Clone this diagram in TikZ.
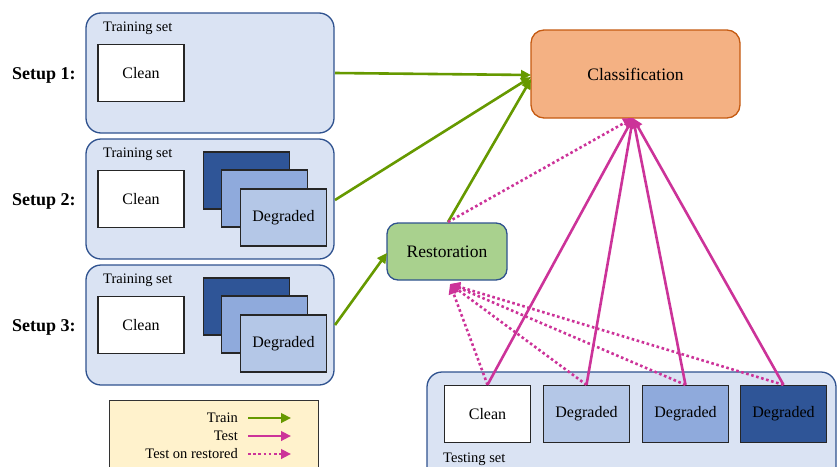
\documentclass[tikz,border=0pt]{standalone}
\usepackage{fontspec}
\setmainfont{Liberation Serif}
\usetikzlibrary{arrows.meta}
\definecolor{setfill}{RGB}{218,227,243}
\definecolor{setdraw}{RGB}{47,82,143}
\definecolor{clsfill}{RGB}{244,177,131}
\definecolor{clsdraw}{RGB}{197,90,17}
\definecolor{resfill}{RGB}{169,209,142}
\definecolor{degA}{RGB}{180,199,231}
\definecolor{degB}{RGB}{143,170,220}
\definecolor{degC}{RGB}{47,85,151}
\definecolor{trainc}{RGB}{102,153,0}
\definecolor{testc}{RGB}{204,51,153}
\definecolor{legfill}{RGB}{255,242,204}
\tikzset{
  setbox/.style={draw=setdraw, fill=setfill, line width=1.3pt, rounded corners=15pt},
  imgbox/.style={draw=black!85, line width=1.3pt, minimum width=86pt, minimum height=57pt, inner sep=0pt, font=\fontsize{16}{18}\selectfont},
  lbl/.style={font=\fontsize{14.5}{16}\selectfont, inner sep=0pt},
  setup/.style={font=\bfseries\fontsize{18}{20}\selectfont, inner sep=0pt},
  trainarrow/.style={draw=trainc, line width=2.6pt, -{Triangle[length=10pt,width=9.5pt]}},
  testarrow/.style={draw=testc, line width=2.6pt, -{Triangle[length=10pt,width=9.5pt]}},
  restarrow/.style={draw=testc, line width=2.6pt, dash pattern=on 2.6pt off 2.6pt, -{Triangle[length=10pt,width=9.5pt]}},
}
\begin{document}
\begin{tikzpicture}[x=1pt,y=-1pt]
\useasboundingbox (0,0) rectangle (837,466);
\clip (0,0) rectangle (837,466);

% three training setups
\foreach \i/\dy in {1/0,2/126,3/252}{
  \path[setbox] (86,13+\dy) rectangle (334,133+\dy);
  \node[lbl, anchor=west] at (103,28+\dy) {Training set};
  \node[setup, anchor=west] at (12,75+\dy) {Setup \i:};
  \node[imgbox, fill=white] at (141,73+\dy) {Clean};
}
\node[coordinate] (s1) at (335,73) {};
\node[coordinate] (s2) at (335,200) {};
\node[coordinate] (s3) at (335,325) {};

% degraded stacks
\foreach \dy in {0,126}{
  \node[imgbox, fill=degC] at (246.5,180.5+\dy) {};
  \node[imgbox, fill=degB] at (264.5,198.5+\dy) {};
  \node[imgbox, fill=degA] at (283.5,217.5+\dy) {Degraded};
}

% processing blocks
\node[draw=clsdraw, fill=clsfill, line width=1.3pt, rounded corners=13pt,
      minimum width=209pt, minimum height=88pt, font=\fontsize{17.5}{20}\selectfont]
      (cls) at (635.5,74) {Classification};
\node[draw=setdraw, fill=resfill, line width=1.3pt, rounded corners=11pt,
      minimum width=120pt, minimum height=57pt, font=\fontsize{17.5}{20}\selectfont]
      (res) at (447,251.5) {Restoration};

% testing set
\path[setbox] (427,372) rectangle (836,490);
\node[lbl, anchor=west] at (443,459) {Testing set};
\node[imgbox, fill=white] (t0) at (487.5,414) {Clean};
\node[imgbox, fill=degA] (t1) at (586.5,414) {Degraded};
\node[imgbox, fill=degB] (t2) at (685.5,414) {Degraded};
\node[imgbox, fill=degC] (t3) at (783.5,414) {Degraded};

% anchor points for connectors
\coordinate (clsin) at (531,75);
\coordinate (clsbot) at (633,118);
\coordinate (restop) at (448,222);
\coordinate (resbot) at (450,284);
\coordinate (resleft) at (387,253);

% train connectors
\draw[trainarrow] (s1) -- (clsin);
\draw[trainarrow] (s2) -- (531,77);
\draw[trainarrow] (s3) -- (resleft);
\draw[trainarrow] (restop) -- (531,79);

% test on restored
\draw[restarrow] (restop) -- (clsbot);
\foreach \t in {t0,t1,t2,t3}{
  \draw[restarrow] (\t.north) -- (resbot);
}
% test
\foreach \t in {t0,t1,t2,t3}{
  \draw[testarrow] (\t.north) -- (clsbot);
}

% legend
\node[draw=black!80, fill=legfill, line width=1.3pt, anchor=north west,
      minimum width=209pt, minimum height=80pt, inner sep=0pt] (leg) at (109,400) {};
\node[lbl, anchor=east] (lt1) at (238,418) {Train};
\node[lbl, anchor=east] (lt2) at (238,436) {Test};
\node[lbl, anchor=east] (lt3) at (238,454) {Test on restored};
\coordinate (a1) at (248,418); \coordinate (b1) at (291,418);
\coordinate (a2) at (248,436); \coordinate (b2) at (291,436);
\coordinate (a3) at (248,454); \coordinate (b3) at (291,454);
\draw[trainarrow] (a1) -- (b1);
\draw[testarrow] (a2) -- (b2);
\draw[restarrow] (a3) -- (b3);
\end{tikzpicture}
\end{document}
